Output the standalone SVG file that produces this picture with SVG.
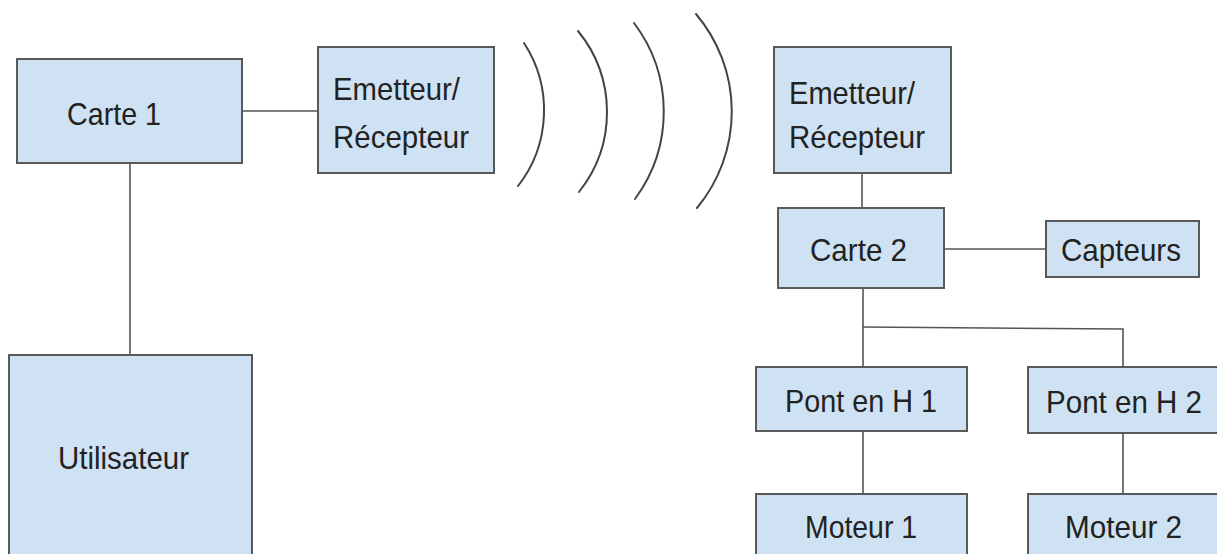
<svg xmlns="http://www.w3.org/2000/svg" width="1217" height="554" viewBox="0 0 1217 554">
  <style>
    .box { fill: #cfe2f3; stroke: #595959; stroke-width: 2; }
    .lbl { font-family: "Liberation Sans", Arial, sans-serif; font-size: 32px; fill: #222222; }
    .wire { fill: none; stroke: #555555; stroke-width: 1.6; }
    .wave { fill: none; stroke: #444444; stroke-width: 2; stroke-linecap: round; }
  </style>
  <rect x="0" y="0" width="1217" height="554" fill="#ffffff"/>

  <!-- connectors -->
  <g id="connectors">
    <line class="wire" x1="242" y1="111" x2="318" y2="111"/>
    <line class="wire" x1="130" y1="163" x2="130" y2="355"/>
    <line class="wire" x1="862" y1="173" x2="862" y2="208"/>
    <line class="wire" x1="944" y1="249" x2="1046" y2="249"/>
    <line class="wire" x1="863" y1="288" x2="863" y2="367"/>
    <polyline class="wire" points="863,327 1123,329 1123,367"/>
    <line class="wire" x1="863" y1="431" x2="863" y2="494"/>
    <line class="wire" x1="1123" y1="433" x2="1123" y2="494"/>
  </g>

  <!-- radio waves between the two transceivers -->
  <g id="waves">
    <path class="wave" d="M524,43 A123,123 0 0 1 518,186"/>
    <path class="wave" d="M578,31 A128,128 0 0 1 579,192"/>
    <path class="wave" d="M634,23 A147,147 0 0 1 635,199"/>
    <path class="wave" d="M696,14 A151,151 0 0 1 697,208"/>
  </g>

  <g id="carte1">
    <rect class="box" x="17" y="59" width="225" height="104"/>
    <text class="lbl" x="67" y="125" textLength="94" lengthAdjust="spacingAndGlyphs">Carte 1</text>
  </g>

  <g id="emetteur1">
    <rect class="box" x="318" y="47" width="176" height="126"/>
    <text class="lbl" x="333" y="100" textLength="127" lengthAdjust="spacingAndGlyphs">Emetteur/</text>
    <text class="lbl" x="333" y="148" textLength="136" lengthAdjust="spacingAndGlyphs">Récepteur</text>
  </g>

  <g id="utilisateur">
    <rect class="box" x="9" y="355" width="243" height="210"/>
    <text class="lbl" x="58" y="469" textLength="131" lengthAdjust="spacingAndGlyphs">Utilisateur</text>
  </g>

  <g id="emetteur2">
    <rect class="box" x="774" y="47" width="177" height="126"/>
    <text class="lbl" x="789" y="104" textLength="126" lengthAdjust="spacingAndGlyphs">Emetteur/</text>
    <text class="lbl" x="789" y="148" textLength="136" lengthAdjust="spacingAndGlyphs">Récepteur</text>
  </g>

  <g id="carte2">
    <rect class="box" x="778" y="208" width="166" height="80"/>
    <text class="lbl" x="810" y="261" textLength="97" lengthAdjust="spacingAndGlyphs">Carte 2</text>
  </g>

  <g id="capteurs">
    <rect class="box" x="1046" y="221" width="153" height="56"/>
    <text class="lbl" x="1061" y="261" textLength="120" lengthAdjust="spacingAndGlyphs">Capteurs</text>
  </g>

  <g id="pont1">
    <rect class="box" x="756" y="367" width="211" height="64"/>
    <text class="lbl" x="785" y="412" textLength="152" lengthAdjust="spacingAndGlyphs">Pont en H 1</text>
  </g>

  <g id="pont2">
    <rect class="box" x="1028" y="367" width="200" height="66"/>
    <text class="lbl" x="1046" y="413" textLength="156" lengthAdjust="spacingAndGlyphs">Pont en H 2</text>
  </g>

  <g id="moteur1">
    <rect class="box" x="756" y="494" width="211" height="70"/>
    <text class="lbl" x="805" y="538" textLength="112" lengthAdjust="spacingAndGlyphs">Moteur 1</text>
  </g>

  <g id="moteur2">
    <rect class="box" x="1028" y="494" width="200" height="70"/>
    <text class="lbl" x="1065" y="538" textLength="117" lengthAdjust="spacingAndGlyphs">Moteur 2</text>
  </g>
</svg>
